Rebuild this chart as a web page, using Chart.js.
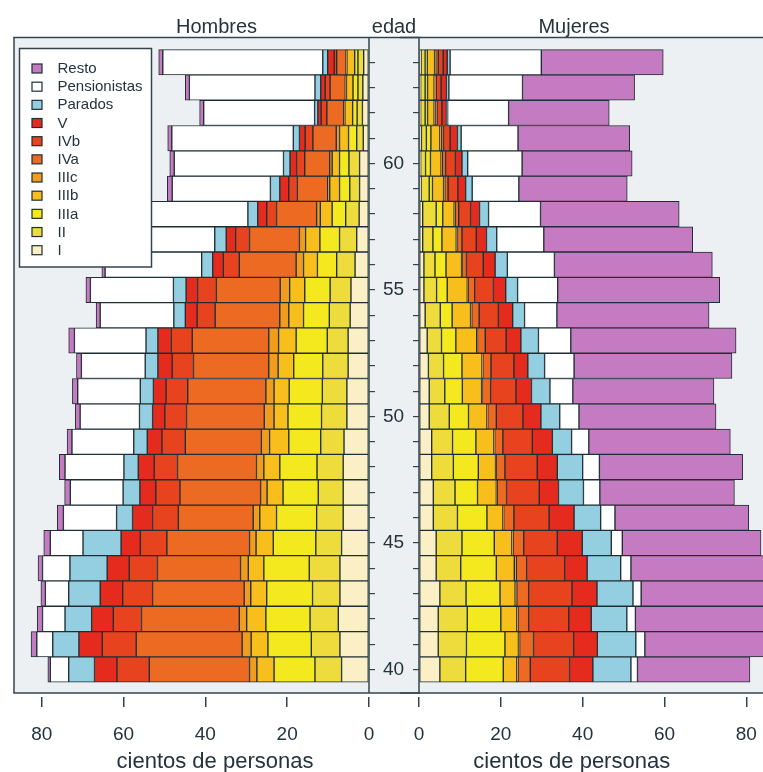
<!DOCTYPE html>
<html>
<head>
<meta charset="utf-8">
<script src="https://cdn.jsdelivr.net/npm/chart.js@4.4.1/dist/chart.umd.min.js"></script>
<style>
  html, body { margin: 0; padding: 0; background: #ffffff; overflow: hidden; width: 763px; height: 772px; }
  #wrap { position: relative; width: 763px; height: 772px; overflow: hidden; }
  #cH { position: absolute; left: 0; top: 0; width: 420px; height: 772px; }
  #cM { position: absolute; left: 400px; top: 0; width: 373px; height: 772px; }
</style>
</head>
<body>
<div id="wrap">
  <canvas id="cH" width="420" height="772"></canvas>
  <canvas id="cM" width="373" height="772"></canvas>
</div>
<script>
// Ages on the vertical axis (one bar per year)
const ages = [40,41,42,43,44,45,46,47,48,49,50,51,52,53,54,55,56,57,58,59,60,61,62,63,64];
const ageLabels = [40,45,50,55,60];
const xTicks = [0,20,40,60,80];

// Series, from the axis outwards
const seriesNames  = ['I','II','IIIa','IIIb','IIIc','IVa','IVb','V','Parados','Pensionistas','Resto'];
const seriesColors = ['#FBEFC6','#EEDC3C','#F4E81E','#F7BE1C','#F29C1E','#EC6A22','#E8431F','#E42B1E','#93CFE0','#FFFFFF','#C57BC1'];

// Hombres (cientos de personas), ages 40..64
const hombresI     = [6.7,7.1,7.5,7.1,7.1,6.7,6.3,6.3,6.3,6.1,5.4,5.4,5.1,5.1,4.6,4.4,3.4,3.0,2.4,2.3,2.3,1.4,1.6,1.5,1.3];
const hombresII    = [6.5,7.0,6.9,6.7,7.5,6.3,6.5,6.1,6.4,5.7,6.2,6.0,6.2,5.1,5.1,5.1,4.5,4.2,3.3,2.4,2.6,1.6,1.3,1.2,1.4];
const hombresIIIa  = [10.0,10.6,10.8,11.2,11.1,10.4,9.8,8.6,9.1,7.8,8.2,8.1,7.1,7.6,6.3,6.2,4.7,4.8,3.3,2.5,2.3,2.0,1.1,1.2,0.8];
const hombresIIIb  = [4.2,4.1,4.7,3.9,3.8,4.2,4.1,3.9,3.9,4.7,3.4,3.7,3.8,4.3,3.6,3.7,3.4,3.5,2.9,2.4,1.8,2.2,1.9,1.6,1.9];
const hombresIIIc  = [1.8,2.2,1.8,1.6,1.9,1.6,1.6,1.6,1.8,2.0,2.4,2.0,2.3,2.4,2.2,2.3,1.8,1.5,0.9,0.5,0.6,0.8,0.3,0.3,0.2];
const hombresIVa   = [24.5,25.9,23.9,22.4,20.3,20.2,18.3,19.7,19.3,18.6,19.0,19.1,18.4,18.7,15.8,15.6,13.9,12.2,9.8,7.4,6.1,5.7,4.1,3.7,2.3];
const hombresIVb   = [7.9,8.3,6.9,7.3,6.9,6.5,6.3,5.9,5.7,5.7,5.3,5.3,5.2,5.1,4.4,4.6,3.9,3.4,2.4,2.1,2.0,1.9,1.4,1.2,0.6];
const hombresV     = [5.5,5.7,5.3,5.5,5.4,4.7,4.9,3.9,3.9,3.6,3.0,3.1,3.5,3.3,2.9,2.8,2.6,2.3,2.2,2.2,1.6,1.4,0.8,1.1,1.6];
const hombresParados = [6.3,6.4,6.5,7.7,9.1,9.3,3.9,4.1,3.5,3.3,3.2,3.2,3.1,2.9,2.8,3.1,2.7,2.8,2.4,2.3,1.6,1.5,0.8,1.4,1.2];
const hombresPens  = [4.5,3.9,5.5,5.7,6.7,8.0,13.0,12.9,14.4,15.1,14.5,15.3,15.6,17.5,18.0,20.3,23.6,25.0,27.0,24.0,26.7,29.7,27.1,30.7,39.1];
const hombresResto = [0.6,1.4,1.3,1.1,1.1,1.6,1.5,1.4,1.4,1.2,1.2,1.3,1.2,1.4,1.0,1.1,0.8,1.0,1.0,1.2,1.1,1.0,1.0,1.0,1.0];

// Mujeres (cientos de personas), ages 40..64
const mujeresI     = [5.1,4.7,4.7,5.1,4.2,4.2,3.5,3.5,3.1,3.1,2.5,2.5,2.3,2.0,1.5,1.2,1.2,0.9,0.9,0.5,0.4,0.6,0.4,0.4,0.5];
const mujeresII    = [6.3,6.9,7.1,6.4,6.0,6.3,5.9,5.3,5.3,5.1,4.9,3.8,3.7,3.5,3.7,3.1,2.7,2.5,3.3,2.0,1.2,1.2,1.1,1.1,1.0];
const mujeresIIIa  = [9.2,9.4,8.2,8.3,8.7,7.9,7.2,5.5,6.1,5.7,4.7,4.3,4.5,3.5,2.9,2.6,2.7,2.2,1.6,0.8,1.2,1.1,0.6,0.6,0.5];
const mujeresIIIb  = [3.3,3.3,3.9,3.7,4.4,4.3,3.9,4.6,4.2,4.4,4.5,4.7,4.9,5.1,4.5,4.9,3.8,3.5,2.8,2.7,2.6,2.2,1.6,1.6,1.8];
const mujeresIIIc  = [0.3,0.3,0.3,0.4,0.5,0.3,0.2,0.2,0.2,0.2,0.2,0.2,0.2,0.2,0.3,0.2,0.2,0.3,0.3,0.3,0.3,0.3,0.3,0.2,0.3];
const mujeresIVa   = [3.0,3.4,2.6,2.9,2.5,2.6,2.5,2.3,2.1,2.0,2.1,2.0,2.0,1.9,1.8,1.6,1.0,1.1,0.8,0.8,0.8,0.6,0.4,0.3,0.6];
const mujeresIVb   = [9.6,9.8,9.8,10.6,9.3,8.2,8.6,8.0,7.9,7.2,6.5,6.2,5.6,5.1,4.7,4.6,4.1,3.5,2.9,2.4,2.4,1.6,1.2,1.2,1.2];
const mujeresV     = [5.7,5.8,5.5,6.1,5.5,6.1,6.1,4.7,4.9,4.9,4.4,3.8,3.4,3.6,3.5,3.0,2.9,2.5,2.2,1.9,1.6,1.8,1.1,1.3,1.0];
const mujeresParados = [9.3,9.4,8.7,8.8,8.2,7.1,6.5,6.1,6.2,4.7,4.6,4.5,4.1,4.3,2.9,2.9,3.0,2.5,2.2,1.6,1.4,0.9,0.3,0.6,0.7];
const mujeresPens  = [1.6,2.2,2.1,2.0,2.5,2.7,3.5,4.0,4.1,4.2,4.7,5.6,7.2,7.9,7.9,9.8,11.5,11.5,12.7,11.4,13.3,13.9,14.9,18.0,22.3];
const mujeresResto = [27.5,30.8,32.1,32.2,33.2,33.9,32.7,32.9,35.0,34.6,33.5,34.5,38.6,40.4,37.2,39.6,38.6,36.4,33.9,26.5,26.9,27.3,24.6,27.4,29.8];

const hombres = [hombresI,hombresII,hombresIIIa,hombresIIIb,hombresIIIc,hombresIVa,hombresIVb,hombresV,hombresParados,hombresPens,hombresResto];
const mujeres = [mujeresI,mujeresII,mujeresIIIa,mujeresIIIb,mujeresIIIc,mujeresIVa,mujeresIVb,mujeresV,mujeresParados,mujeresPens,mujeresResto];

const FONT = "'Liberation Sans', Arial, Helvetica, sans-serif";
const TEXT = '#24333c';
const FRAME = '#34444e';
const BAR_EDGE = '#1f2e35';
const PANEL_BG = '#EDF0F2';
const X_MAX = 86.53;
const Y_MIN = 38.913, Y_MAX = 64.96;

function buildDatasets(values) {
  return seriesNames.map((name, k) => ({
    label: name,
    data: values[k],
    backgroundColor: seriesColors[k],
    borderColor: BAR_EDGE,
    borderWidth: 1,
    borderSkipped: false,
    barPercentage: 1,
    categoryPercentage: 1
  }));
}

function makeOptions(isLeft, frameOpts) {
  return {
    responsive: false,
    animation: false,
    indexAxis: 'y',
    layout: { padding: { left: isLeft ? 15 : 0, right: 0, top: 38, bottom: 0 } },
    plugins: { legend: { display: false }, tooltip: { enabled: false }, panelFrame: frameOpts },
    scales: {
      x: {
        type: 'linear', stacked: true, reverse: isLeft, min: 0, max: X_MAX, offset: false,
        afterFit: s => { s.height = 75; s.paddingLeft = 0; s.paddingRight = 0; },
        afterBuildTicks: s => { s.ticks = xTicks.map(v => ({ value: v })); },
        grid: { drawOnChartArea: false, drawTicks: true, tickLength: 10, color: FRAME, lineWidth: 1.5 },
        border: { display: false },
        ticks: { font: { family: FONT, size: 19 }, color: TEXT, padding: 16, maxRotation: 0, autoSkip: false }
      },
      y: {
        type: 'linear', stacked: true, position: isLeft ? 'right' : 'left', min: Y_MIN, max: Y_MAX, offset: false,
        afterFit: s => { s.width = isLeft ? 51 : 19; s.paddingTop = 0; s.paddingBottom = 0; },
        afterBuildTicks: s => { s.ticks = ages.map(v => ({ value: v })); },
        grid: { drawOnChartArea: false, drawTicks: true, tickLength: 6, color: FRAME, lineWidth: 1.2, offset: false },
        border: { display: false },
        ticks: {
          font: { family: FONT, size: 19 }, color: TEXT, padding: 8, autoSkip: false,
          callback: v => (isLeft && ageLabels.includes(v)) ? String(v) : ''
        }
      }
    }
  };
}

function hLine(ctx, x1, x2, y) { ctx.beginPath(); ctx.moveTo(x1, y); ctx.lineTo(x2, y); ctx.stroke(); }
function vLine(ctx, x, y1, y2) { ctx.beginPath(); ctx.moveTo(x, y1); ctx.lineTo(x, y2); ctx.stroke(); }

// Panel background, frame, strip titles, axis title and legend for each half
const panelPlugin = {
  id: 'panelFrame',
  beforeDraw(chart, args, o) {
    const ctx = chart.ctx, a = chart.chartArea;
    const top = a.top - 0.5, bottom = a.bottom - 4;
    ctx.save();
    ctx.fillStyle = PANEL_BG;
    if (o.left) ctx.fillRect(a.left - 1, top, chart.width - a.left + 1, bottom - top);
    else ctx.fillRect(a.left, top, a.right - a.left, bottom - top);
    ctx.restore();
  },
  afterDraw(chart, args, o) {
    const ctx = chart.ctx, a = chart.chartArea;
    const top = a.top - 0.5, bottom = a.bottom - 4;
    ctx.save();
    ctx.strokeStyle = FRAME;
    ctx.lineWidth = 1.5;
    // panel edge next to the age strip
    vLine(ctx, o.left ? a.right : a.left, top, bottom);
    if (o.left) {
      vLine(ctx, a.left - 1, top, bottom);
      hLine(ctx, a.left - 1.75, chart.width, top);
      hLine(ctx, a.left - 1.75, chart.width, bottom);
    } else {
      hLine(ctx, 0, a.right, top);
      hLine(ctx, 0, a.right, bottom);
      vLine(ctx, a.right - 0.75, top, bottom);
    }
    // titles
    ctx.fillStyle = TEXT;
    ctx.textAlign = 'center';
    ctx.textBaseline = 'alphabetic';
    ctx.font = '20px ' + FONT;
    (o.titles || []).forEach(t => ctx.fillText(t.text, t.x, 33));
    ctx.font = '22px ' + FONT;
    ctx.fillText('cientos de personas', o.axisTitleX, 768);

    // legend box over the upper-left corner of the Hombres panel
    if (o.left) {
      const bx = 19.5, by = 48.5, bw = 132, bh = 218.5;
      ctx.fillStyle = '#ffffff';
      ctx.fillRect(bx, by, bw, bh);
      ctx.strokeStyle = FRAME;
      ctx.lineWidth = 1.5;
      ctx.strokeRect(bx, by, bw, bh);
      const ds = chart.data.datasets.slice().reverse();
      ctx.font = '15px ' + FONT;
      ctx.textAlign = 'left';
      ctx.textBaseline = 'middle';
      ds.forEach((d, i) => {
        const cy = 68.5 + i * 18.17;
        ctx.fillStyle = d.backgroundColor;
        ctx.fillRect(32, cy - 4.5, 10, 9);
        ctx.lineWidth = 1.2;
        ctx.strokeStyle = BAR_EDGE;
        ctx.strokeRect(32, cy - 4.5, 10, 9);
        ctx.fillStyle = TEXT;
        ctx.fillText(d.label, 57.5, cy + 0.5);
      });
    }
    ctx.restore();
  }
};

new Chart(document.getElementById('cH'), {
  type: 'bar',
  data: { labels: ages, datasets: buildDatasets(hombres) },
  options: makeOptions(true, {
    left: true, axisTitleX: 215,
    titles: [{ text: 'Hombres', x: 216.5 }, { text: 'edad', x: 394 }]
  }),
  plugins: [panelPlugin]
});

new Chart(document.getElementById('cM'), {
  type: 'bar',
  data: { labels: ages, datasets: buildDatasets(mujeres) },
  options: makeOptions(false, {
    left: false, axisTitleX: 571.7 - 400,
    titles: [{ text: 'Mujeres', x: 574 - 400 }]
  }),
  plugins: [panelPlugin]
});
</script>
</body>
</html>
